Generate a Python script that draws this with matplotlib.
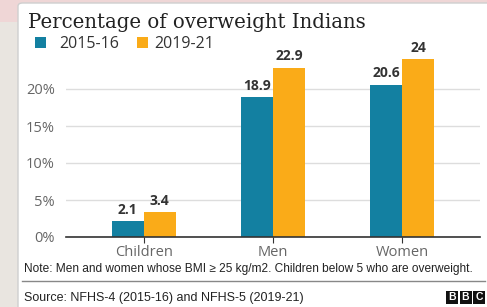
import matplotlib
matplotlib.use("Agg")
from matplotlib import pyplot as plt
from matplotlib.patches import Rectangle, FancyBboxPatch
import numpy as np

# Data
categories = ["Children", "Men", "Women"]
series_names = ["2015-16", "2019-21"]
values_2015 = [2.1, 18.9, 20.6]
values_2019 = [3.4, 22.9, 24]
value_labels_2015 = ["2.1", "18.9", "20.6"]
value_labels_2019 = ["3.4", "22.9", "24"]
yticks = [0, 5, 10, 15, 20]

blue = "#1380A1"
orange = "#FAAB18"

W, H = 487, 307
fig = plt.figure(figsize=(W / 100, H / 100), dpi=100)
fig.patch.set_facecolor("white")

# background: beige strip on the left, pink band on top, white card
fig.patches.append(Rectangle((0, 0), 1, 1, transform=fig.transFigure,
                             facecolor="#e9e5e0", edgecolor="none", zorder=-3))
fig.patches.append(Rectangle((0, 1 - 22 / H), 1, 22 / H, transform=fig.transFigure,
                             facecolor="#efd6d6", edgecolor="none", zorder=-2))
fig.patches.append(FancyBboxPatch((18 / W, -10 / H), (W - 18 + 20) / W, (H - 3 + 10) / H,
                                  boxstyle="round,pad=0,rounding_size=0.01",
                                  transform=fig.transFigure, facecolor="white",
                                  edgecolor="#cfcfcf", linewidth=1.0, zorder=-1))

ax = fig.add_axes([66 / W, 70 / H, (480 - 66) / W, 185 / H])
ax.set_facecolor("none")

x = np.arange(len(categories))
bw = 0.248
b1 = ax.bar(x - bw / 2, values_2015, bw, color=blue, zorder=3)
b2 = ax.bar(x + bw / 2, values_2019, bw, color=orange, zorder=3)

for bars, labels in [(b1, value_labels_2015), (b2, value_labels_2019)]:
    for rect, lab in zip(bars, labels):
        ax.annotate(lab, (rect.get_x() + rect.get_width() / 2, rect.get_height()),
                    xytext=(0, 3), textcoords="offset points", ha="center", va="bottom",
                    fontsize=10, color="#333333", fontweight="bold", family="Open Sans",
                    annotation_clip=False)

ax.set_xlim(-0.6, 2.6)
ax.set_ylim(0, 25)
ax.set_yticks(yticks)
ax.set_yticklabels([f"{t}%" for t in yticks], fontsize=10.5, color="#666666", family="Open Sans")
ax.set_xticks(x)
ax.set_xticklabels(categories, fontsize=10.5, color="#666666", family="Open Sans")
ax.tick_params(axis="y", length=0, pad=8)
ax.tick_params(axis="x", length=4, color="#333333", pad=2)
ax.yaxis.grid(True, color="#dddddd", linewidth=1)
ax.set_axisbelow(True)
for s in ["top", "right", "left"]:
    ax.spines[s].set_visible(False)
ax.spines["bottom"].set_color("#333333")
ax.spines["bottom"].set_linewidth(1.2)
ax.spines["bottom"].set_zorder(4)

# title and legend
fig.text(28 / W, 1 - 28 / H, "Percentage of overweight Indians", fontsize=14.2,
         family="DejaVu Serif", color="#222222", va="baseline")
fig.patches.append(Rectangle((35 / W, 1 - 48 / H), 11 / W, 11 / H, transform=fig.transFigure,
                             facecolor=blue, edgecolor="none"))
fig.text(59 / W, 1 - 47.5 / H, series_names[0], fontsize=11.5, family="Open Sans",
         color="#333333", va="baseline")
fig.patches.append(Rectangle((137 / W, 1 - 48 / H), 11 / W, 11 / H, transform=fig.transFigure,
                             facecolor=orange, edgecolor="none"))
fig.text(154 / W, 1 - 47.5 / H, series_names[1], fontsize=11.5, family="Open Sans",
         color="#333333", va="baseline")

# footer
fig.text(24 / W, 1 - 272 / H,
         "Note: Men and women whose BMI \u2265 25 kg/m2. Children below 5 who are overweight.",
         fontsize=8.6, family="Liberation Sans", color="#222222", va="baseline")
fig.add_artist(plt.Line2D([22 / W, 485 / W], [1 - 281 / H, 1 - 281 / H],
                          transform=fig.transFigure, color="#888888", linewidth=1))
fig.text(24 / W, 1 - 301.5 / H, "Source: NFHS-4 (2015-16) and NFHS-5 (2019-21)",
         fontsize=9.0, family="Liberation Sans", color="#222222", va="baseline")
for i, letter in enumerate("BBC"):
    x0 = 446 + i * 13.5
    fig.patches.append(Rectangle((x0 / W, 1 - 304 / H), 12 / W, 13 / H,
                                 transform=fig.transFigure, facecolor="#111111",
                                 edgecolor="none"))
    fig.text((x0 + 6) / W, 1 - 297.5 / H, letter, fontsize=7.5, fontweight="bold",
             family="Liberation Sans", color="white", ha="center", va="center")

fig.savefig("out.png", dpi=100)
